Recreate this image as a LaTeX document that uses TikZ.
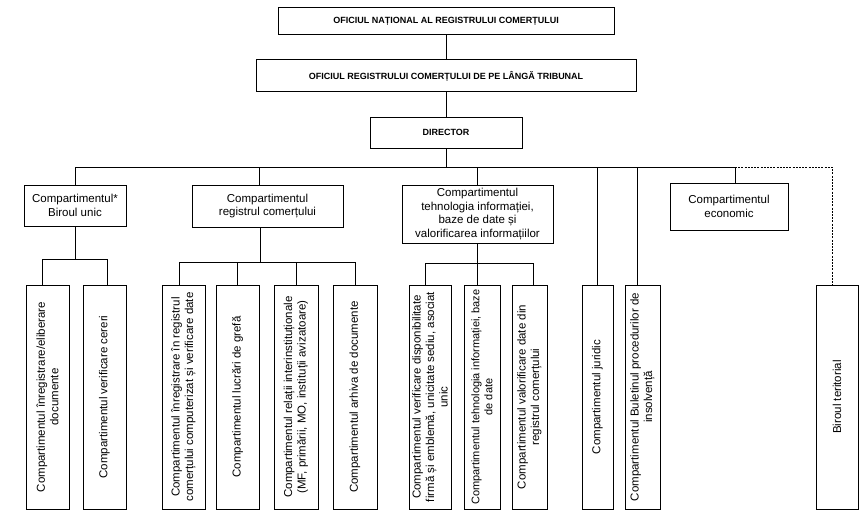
\documentclass[tikz,border=0pt]{standalone}
\usepackage{fontspec}
\setmainfont{Liberation Sans}
\newcommand\myfont{\fontsize{11.5}{13.5}\selectfont}
\newcommand\mysmallfont{\fontsize{11}{13}\selectfont}
\newcommand\mytopfont{\bfseries\fontsize{9}{11}\selectfont}
\begin{document}
\begin{tikzpicture}[x=1pt,y=1pt,
  box/.style={draw, line width=1pt, align=center, inner sep=1pt, font=\myfont},
  topbox/.style={draw, line width=1pt, align=center, inner sep=0pt, font=\mytopfont},
  vbox/.style={box, rotate=90, minimum width=224pt},
  conn/.style={line width=1pt},
  dconn/.style={line width=1pt, dash pattern=on 2pt off 1.2pt}]
\useasboundingbox (0,0) rectangle (866,-516);
% top chain
\node[topbox, minimum width=336pt, minimum height=27pt] (onrc) at (446,-21.5) {OFICIUL NAȚIONAL AL REGISTRULUI COMERȚULUI};
\node[topbox, minimum width=380pt, minimum height=32pt] (orc) at (446,-76) {OFICIUL REGISTRULUI COMERȚULUI DE PE LÂNGĂ TRIBUNAL};
\node[topbox, minimum width=152pt, minimum height=31pt] (dir) at (446,-132.5) {DIRECTOR};
% level 2
\node[box, minimum width=102pt, minimum height=41pt] (bu) at (75,-205.5) {Compartimentul*\\Biroul unic};
\node[box, minimum width=151pt, minimum height=42pt] (rc) at (267.5,-206) {Compartimentul\\registrul comerțului};
\node[box, minimum width=151pt, minimum height=58pt] (ti) at (477.5,-214) {Compartimentul\\tehnologia informației,\\baze de date și\\valorificarea informațiilor};
\node[box, minimum width=118pt, minimum height=47pt] (ec) at (729,-206.5) {Compartimentul\\economic};
% level 3
\node[vbox, minimum height=43pt] (b1) at (47.5,-397) {Compartimentul înregistrare/eliberare\\documente};
\node[vbox, minimum height=43pt] (b2) at (104.5,-397) {Compartimentul verificare cereri};
\node[vbox, minimum height=43pt] (r1) at (183.5,-397) {Compartimentul înregistrare în registrul\\comerțului computerizat și verificare date};
\node[vbox, minimum height=43pt] (r2) at (237.5,-397) {Compartimentul lucrări de grefă};
\node[vbox, minimum height=44pt] (r3) at (296,-397) {Compartimentul relații interinstituționale\\(MF, primării, MO, instituții avizatoare)};
\node[vbox, minimum height=44pt] (r4) at (355,-397) {Compartimentul arhiva de documente};
\node[vbox, minimum height=42pt, inner sep=0.5pt] (t1) at (430,-397) {Compartimentul verificare disponibilitate\\firmă și emblemă, unicitate sediu, asociat\\unic};
\node[vbox, minimum height=36pt, font=\mysmallfont] (t2) at (482,-397) {Compartimentul tehnologia informației, baze\\de date};
\node[vbox, minimum height=35pt] (t3) at (529.5,-397) {Compartimentul valorificare date din\\registrul comerțului};
\node[vbox, minimum height=31pt] (j) at (597.5,-397) {Compartimentul juridic};
\node[vbox, minimum height=35pt] (bl) at (642.5,-397) {Compartimentul Buletinul procedurilor de\\insolvență};
\node[vbox, minimum height=42pt] (bt) at (837,-397) {Biroul teritorial};
% bus coordinates
\coordinate (bus) at (0,-167);
\coordinate (sbB) at (0,-259);
\coordinate (sbR) at (0,-262);
\coordinate (sbT) at (0,-263);
\coordinate (ecT) at ([xshift=6pt]ec.north);
\coordinate (rcT) at ([xshift=-8pt]rc.north);
\coordinate (rcB) at ([xshift=-7pt]rc.south);
\coordinate (blT) at ([xshift=-5.5pt]bl.east);
\coordinate (btT) at ([xshift=-5pt]bt.east);
\coordinate (b1T) at ([xshift=-5.5pt]b1.east);
\coordinate (b2T) at ([xshift=2.5pt]b2.east);
\coordinate (r1T) at ([xshift=-4.5pt]r1.east);
\coordinate (t1T) at ([xshift=-5pt]t1.east);
\coordinate (t3T) at ([xshift=3.5pt]t3.east);
% top connectors
\draw[conn] (onrc) -- (orc);
\draw[conn] (orc) -- (dir);
\draw[conn] (dir.south) -- (dir.south |- bus);
% main bus
\draw[conn] (bu.north) -- (bu.north |- bus) -- (ecT |- bus) -- (ecT);
\draw[conn] (rcT) -- (rcT |- bus);
\draw[conn] (ti.north) -- (ti.north |- bus);
\draw[conn] (j.east) -- (j.east |- bus);
\draw[conn] (blT) -- (blT |- bus);
\draw[dconn] (ecT |- bus) -- (btT |- bus) -- (btT);
% Biroul unic subtree
\draw[conn] (bu.south) -- (bu.south |- sbB);
\draw[conn] (b1T) -- (b1T |- sbB) -- (b2T |- sbB) -- (b2T);
% registrul subtree
\draw[conn] (rcB) -- (rcB |- sbR);
\draw[conn] (r1T) -- (r1T |- sbR) -- (r4.east |- sbR) -- (r4.east);
\draw[conn] (r2.east) -- (r2.east |- sbR);
\draw[conn] (r3.east) -- (r3.east |- sbR);
% tehnologia subtree
\draw[conn] (ti.south) -- (ti.south |- t2.east);
\draw[conn] (t1T) -- (t1T |- sbT) -- (t3T |- sbT) -- (t3T);
\end{tikzpicture}
\end{document}
